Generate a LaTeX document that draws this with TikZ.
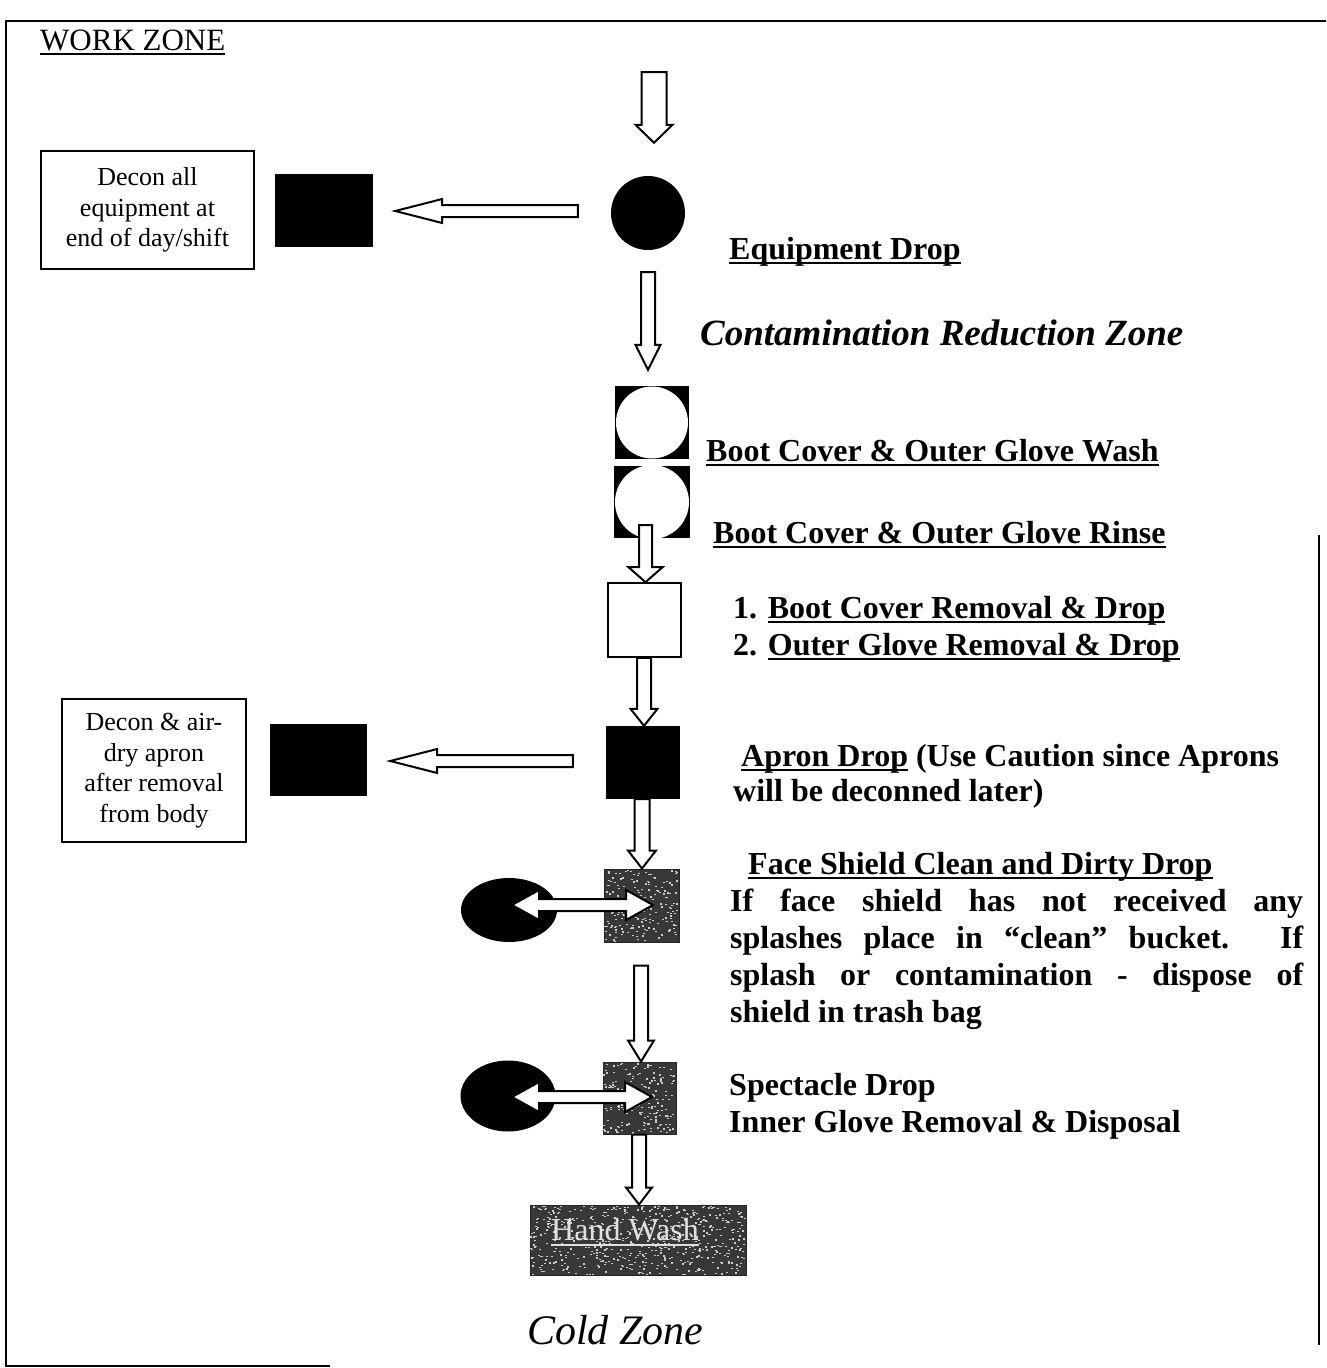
\documentclass[tikz,border=0pt]{standalone}
\usepackage{fontspec}
\setmainfont{Liberation Serif}
\usetikzlibrary{shapes.geometric,calc}
\newcommand\ulx[1]{\setbox0=\hbox{#1}\rlap{\rule[-0.16em]{\wd0}{0.065em}}\box0\relax}
% vertical hollow arrow: #1 start, #2 tip, #3 shaft half, #4 head half, #5 head length
\newcommand\downarr[5]{\draw[blockarrow] let \p1=(#1), \p2=(#2) in
  (\x2-#3pt,\y1) -- (\x2+#3pt,\y1) -- (\x2+#3pt,\y2+#5pt) -- (\x2+#4pt,\y2+#5pt) -- (\x2,\y2)
  -- (\x2-#4pt,\y2+#5pt) -- (\x2-#3pt,\y2+#5pt) -- cycle;}
% left hollow arrow: #1 start (right end), #2 tip
\newcommand\leftarr[5]{\draw[blockarrow] let \p1=(#1), \p2=(#2) in
  (\x1,\y2+#3pt) -- (\x2+#5pt,\y2+#3pt) -- (\x2+#5pt,\y2+#4pt) -- (\x2,\y2)
  -- (\x2+#5pt,\y2-#4pt) -- (\x2+#5pt,\y2-#3pt) -- (\x1,\y2-#3pt) -- cycle;}
% double hollow arrow: #1 left tip, #2 right tip
\newcommand\dblarr[5]{\draw[blockarrow] let \p1=(#1), \p2=(#2) in
  (\x1,\y1) -- (\x1+#5pt,\y1+#4pt) -- (\x1+#5pt,\y1+#3pt) -- (\x2-#5pt,\y1+#3pt) -- (\x2-#5pt,\y1+#4pt)
  -- (\x2,\y1) -- (\x2-#5pt,\y1-#4pt) -- (\x2-#5pt,\y1-#3pt) -- (\x1+#5pt,\y1-#3pt) -- (\x1+#5pt,\y1-#4pt) -- cycle;}
\tikzset{
  blockarrow/.style={draw=black, fill=white, line width=2pt, line join=miter},
  blacksq/.style={rectangle, fill=black, draw=none, inner sep=0pt},
  whitesq/.style={rectangle, fill=white, draw=black, line width=1.6pt, inner sep=0pt},
  graysq/.style={rectangle, fill=black!78, draw=black!85, line width=1pt, inner sep=0pt},
  circsq/.style={rectangle, fill=black, inner sep=0pt,
     path picture={\fill[white] (path picture bounding box.center) circle (#1);}},
  blob/.style={ellipse, fill=black, inner sep=0pt},
  notebox/.style={draw, line width=1.3pt, align=center, inner sep=0pt, font=\fontsize{26}{30.5}\selectfont},
  rtext/.style={anchor=base west, inner sep=0pt, font=\fontsize{32}{37}\selectfont\bfseries},
  frame/.style={line width=2.5pt}
}
\begin{document}
\begin{tikzpicture}[x=1pt,y=1pt]
\useasboundingbox (0,0) rectangle (1326,-1368);
% frame
\draw[frame] (1326,-21) -- (6,-21) -- (6,-1366) -- (330,-1366);
\draw[frame] (1319,-535) -- (1319,-1345);

\node[anchor=base west, inner sep=0pt, font=\fontsize{31}{36}\selectfont] (wz) at (40,-50) {\ulx{WORK ZONE}};

% main column nodes
\coordinate (top) at (654,-72);
\node[circle, fill=black, inner sep=0pt, minimum size=74pt] (eq) at (648,-213) {};
\node[blacksq, minimum width=98pt, minimum height=73pt] (eqsq) at (324,-210.5) {};
\node[notebox, minimum width=213pt, minimum height=118pt] (dec1) at (147.5,-210) {Decon all\\equipment at\\end of day/shift};

\node[circsq=36pt, minimum width=74pt, minimum height=73pt] (bw) at (652,-422.5) {};
\node[circsq=37pt, minimum width=76pt, minimum height=72pt] (br) at (652,-502) {};
\node[whitesq, minimum width=73pt, minimum height=74pt] (ro) at (644.5,-620) {};
\node[blacksq, minimum width=74pt, minimum height=73pt] (ap) at (643,-762.5) {};
\node[blacksq, minimum width=97pt, minimum height=72pt] (apsq) at (318.5,-760) {};
\node[notebox, minimum width=184pt, minimum height=143pt] (dec2) at (154,-770.5) {Decon \& air-\\dry apron\\after removal\\from body};

\node[blob, minimum width=96pt, minimum height=64pt] (fse) at (509,-910) {};
\node[graysq, minimum width=75pt, minimum height=73pt] (fs) at (641.5,-905.5) {};
\node[blob, minimum width=95pt, minimum height=71pt] (spe) at (508,-1096) {};
\node[graysq, minimum width=73pt, minimum height=72pt] (sp) at (639.5,-1098) {};
\node[graysq, minimum width=216pt, minimum height=70pt] (hw) at (638,-1240) {};

% speckle texture
\pgfmathsetseed{42}
\foreach \nd/\w/\h/\k in {fs/75/73/200, sp/73/72/200, hw/216/70/600} {
  \foreach \i in {1,...,\k} {
    \pgfmathsetmacro\rx{rnd*(\w-2)}
    \pgfmathsetmacro\ry{rnd*(\h-1.5)}
    \fill[white!80!black] ($(\nd.south west)+(\rx,\ry)$) rectangle ++(2,1.3);
  }
}
\node[font=\fontsize{32}{37}\selectfont, text=black!12, inner sep=0pt] (hwt) at (625,-1232) {\ulx{Hand Wash}};

% connectors
\downarr{top}{[xshift=6pt,yshift=33pt]eq.north}{12.5}{18.5}{18}
\leftarr{[xshift=-33pt]eq.west}{[xshift=22pt,yshift=-0.5pt]eqsq.east}{6}{12}{47}
\downarr{[yshift=-22pt]eq.south}{[xshift=-4pt,yshift=16pt]bw.north}{7}{12.5}{25}
\downarr{[yshift=13pt]br.south}{[xshift=1pt]ro.north}{6.5}{17}{15}
\downarr{ro.south}{[xshift=1pt]ap.north}{7}{13.5}{17}
\leftarr{[xshift=-33pt]ap.west}{[xshift=23pt,yshift=-1pt]apsq.east}{6}{12}{47}
\downarr{ap.south}{[xshift=0.5pt]fs.north}{7.5}{14}{18}
\dblarr{[xshift=3pt,yshift=5pt]fse.center}{[xshift=11.5pt,yshift=0.5pt]fs.center}{6}{15}{27}
\downarr{[yshift=-23pt]fs.south}{[xshift=1.5pt]sp.north}{7}{13}{21}
\dblarr{[xshift=4pt,yshift=-1pt]spe.center}{[xshift=12.5pt,yshift=1pt]sp.center}{6}{15}{27}
\downarr{sp.south}{[xshift=1pt]hw.north}{7}{13}{17}

% right column texts
\node[rtext] (t1) at (729,-259) {\ulx{Equipment Drop}};
\node[anchor=base west, inner sep=0pt, font=\fontsize{37}{44}\selectfont\bfseries\itshape] (t2) at (700,-345) {Contamination Reduction Zone};
\node[rtext] (t3) at (706,-461) {\ulx{Boot Cover \& Outer Glove Wash}};
\node[rtext] (t4) at (713,-543) {\ulx{Boot Cover \& Outer Glove Rinse}};
\node[rtext] (t5) at (733,-618) {1. \ulx{Boot Cover Removal \& Drop}};
\node[rtext] (t6) at (733,-655) {2. \ulx{Outer Glove Removal \& Drop}};
\node[rtext] (t7) at (741,-766) {\ulx{Apron Drop} (Use Caution since Aprons};
\node[rtext] (t8) at (733,-801) {will be deconned later)};
\node[rtext] (t9) at (748,-874) {\ulx{Face Shield Clean and Dirty Drop}};
\node[rtext] (t10) at (730,-911) {\makebox[573pt][s]{If face shield has not received any}};
\node[rtext] (t11) at (730,-948) {\makebox[573pt][s]{splashes place in “clean” bucket. If}};
\node[rtext] (t12) at (730,-985) {\makebox[573pt][s]{splash or contamination - dispose of}};
\node[rtext] (t13) at (730,-1022) {shield in trash bag};
\node[rtext] (t14) at (729,-1095) {Spectacle Drop};
\node[rtext] (t15) at (729,-1132) {Inner Glove Removal \& Disposal};

\node[anchor=base west, inner sep=0pt, font=\fontsize{42}{50}\selectfont\itshape] (cz) at (527,-1344) {Cold Zone};
\end{tikzpicture}
\end{document}
